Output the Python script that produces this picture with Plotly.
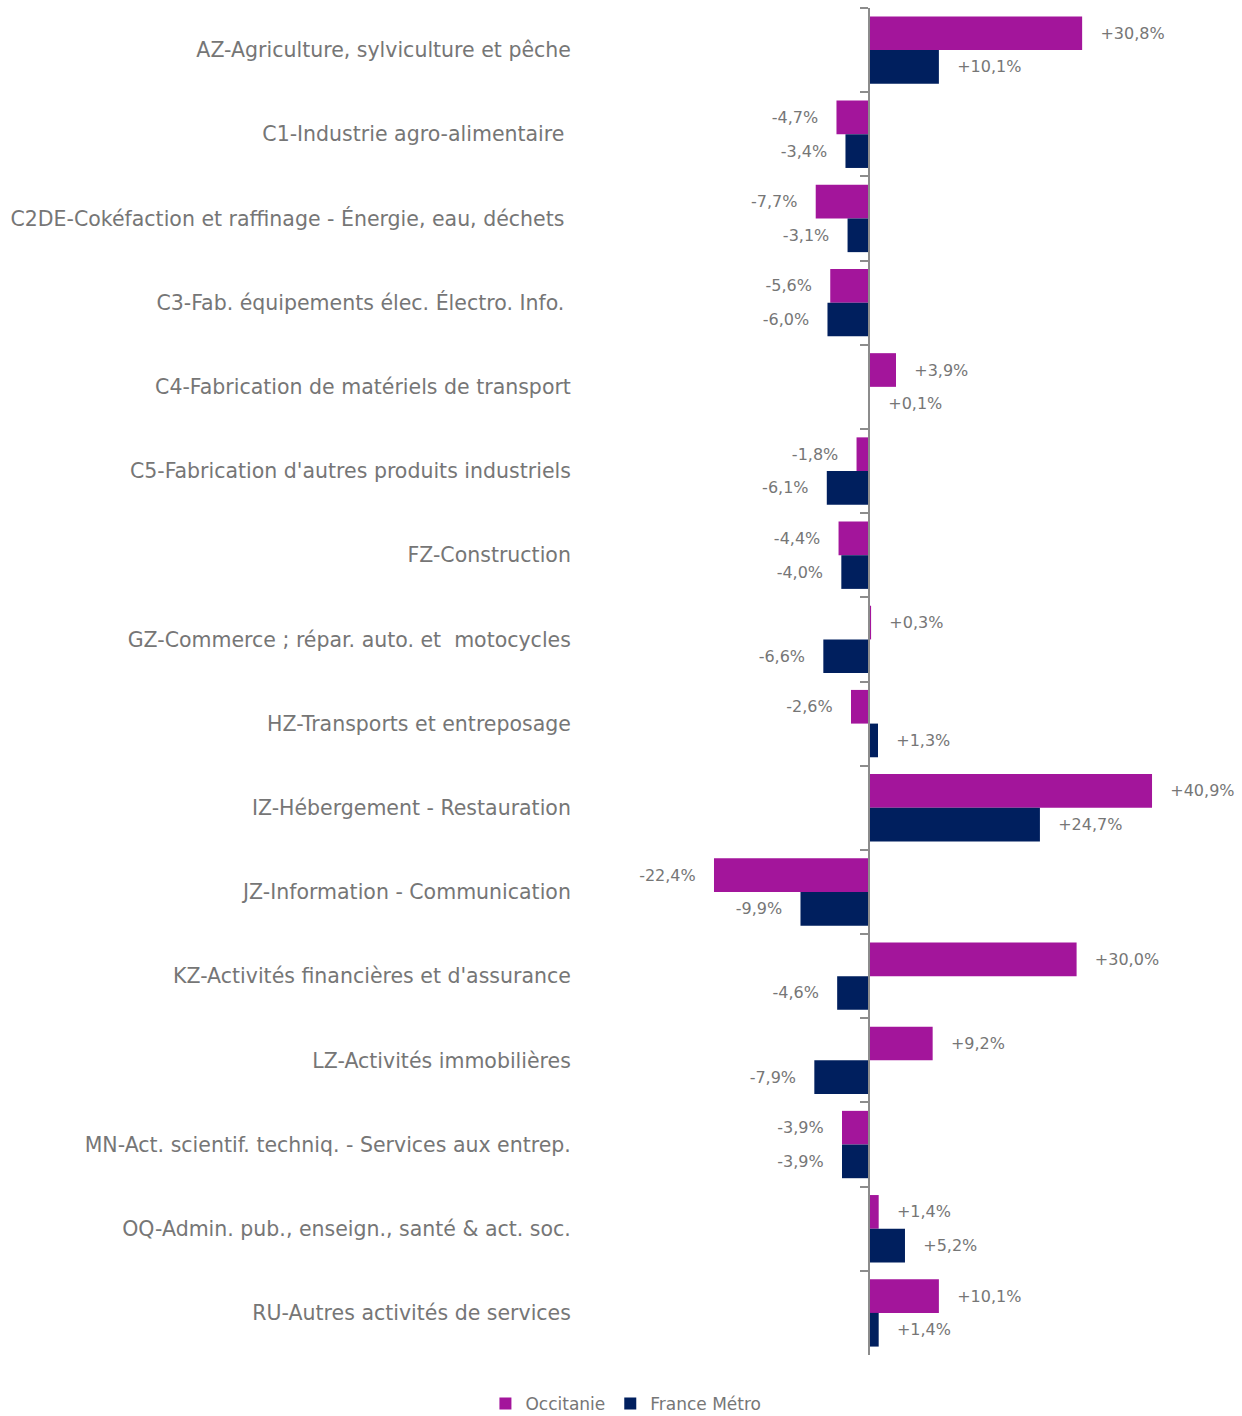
import plotly.graph_objects as go

categories = [
    "AZ-Agriculture, sylviculture et pêche",
    "C1-Industrie agro-alimentaire\u00a0",
    "C2DE-Cokéfaction et raffinage - Énergie, eau, déchets\u00a0",
    "C3-Fab. équipements élec. Électro. Info.\u00a0",
    "C4-Fabrication de matériels de transport",
    "C5-Fabrication d'autres produits industriels",
    "FZ-Construction",
    "GZ-Commerce ; répar. auto. et \u00a0motocycles",
    "HZ-Transports et entreposage",
    "IZ-Hébergement - Restauration",
    "JZ-Information - Communication",
    "KZ-Activités financières et d'assurance",
    "LZ-Activités immobilières",
    "MN-Act. scientif. techniq. - Services aux entrep.",
    "OQ-Admin. pub., enseign., santé & act. soc.",
    "RU-Autres activités de services",
]
occitanie = [30.8, -4.7, -7.7, -5.6, 3.9, -1.8, -4.4, 0.3, -2.6, 40.9, -22.4, 30.0, 9.2, -3.9, 1.4, 10.1]
france = [10.1, -3.4, -3.1, -6.0, 0.1, -6.1, -4.0, -6.6, 1.3, 24.7, -9.9, -4.6, -7.9, -3.9, 5.2, 1.4]

C_OCC = "#A3159B"
C_FR = "#001F5E"
TXT = "#767676"
FONT = "DejaVu Sans"
PAD = "\u00a0\u00a0\u00a0"


def fmt(v):
    s = f"{v:+.1f}%".replace(".", ",")
    return PAD + s if v >= 0 else s + PAD


fig = go.Figure()
for name, vals, col in [("Occitanie", occitanie, C_OCC), ("France Métro", france, C_FR)]:
    fig.add_trace(go.Bar(
        y=categories, x=vals, orientation="h", name=name,
        marker=dict(color=col, line=dict(width=0)),
        text=[fmt(v) for v in vals], textposition="outside",
        textfont=dict(family=FONT, size=16, color=TXT),
        cliponaxis=False,
    ))

L, R = 5, 5
W = 1242
px_per = 6.92
zero_px = 869
xmin = -(zero_px - L) / px_per
xmax = (W - R - zero_px) / px_per
pos = (zero_px - L) / (W - L - R)

fig.update_layout(
    width=1242, height=1416,
    margin=dict(l=L, r=R, t=8, b=61, autoexpand=False),
    barmode="group", bargap=0.2, bargroupgap=0,
    plot_bgcolor="white", paper_bgcolor="white",
    font=dict(family=FONT, color=TXT),
    showlegend=True,
    legend=dict(orientation="h", x=0.504, xanchor="center",
                yref="container", y=(1416 - 1404) / 1416, yanchor="middle",
                font=dict(family=FONT, size=17, color=TXT), itemwidth=30,
                traceorder="normal"),
    xaxis=dict(range=[xmin, xmax], visible=False, fixedrange=True, automargin=False),
    yaxis=dict(
        type="category", autorange="reversed",
        anchor="free", position=pos, automargin=False,
        showline=True, linecolor="#8C8C8C", linewidth=2,
        ticks="outside", ticklen=8, tickcolor="#8C8C8C", tickwidth=2,
        tickson="boundaries",
        showgrid=False, zeroline=False,
        ticklabelstandoff=293,
        tickfont=dict(family=FONT, size=20.5, color=TXT),
    ),
)

fig.write_html(
    "out.html",
    config={"displayModeBar": False},
    post_script="document.body.style.margin='0';document.body.style.padding='0';",
)
